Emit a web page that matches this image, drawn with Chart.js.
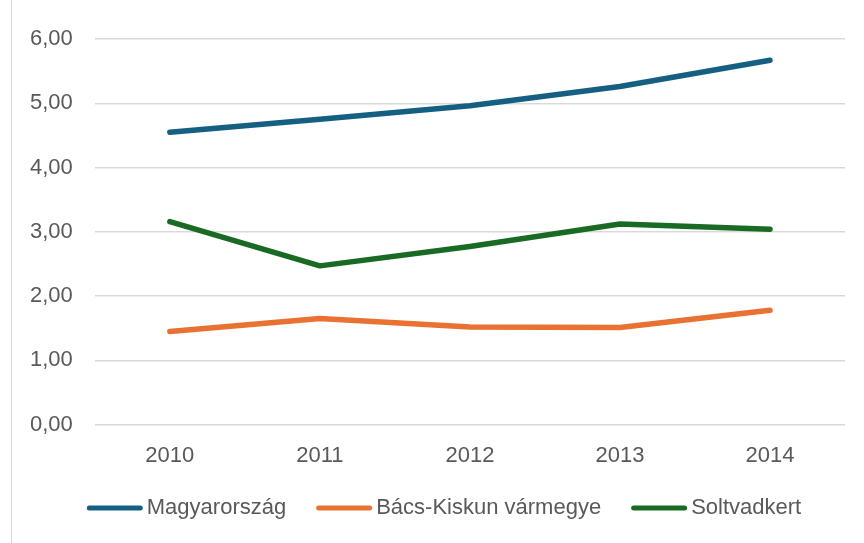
<!DOCTYPE html>
<html>
<head>
<meta charset="utf-8">
<script src="https://cdn.jsdelivr.net/npm/chart.js@4"></script>
<style>
  html, body { margin: 0; padding: 0; background: #fff; }
  #wrap { position: relative; width: 864px; height: 543px; }
  #frame { position: absolute; left: 11px; top: 0; width: 0; height: 543px; border-left: 1px solid #d9d9d9; }
</style>
</head>
<body>
<div id="wrap">
  <div id="frame"></div>
  <canvas id="chart" width="864" height="543"></canvas>
</div>
<script>
// Years on the x axis
const years = ['2010', '2011', '2012', '2013', '2014'];

// Series values
const magyarorszag = [4.55, 4.75, 4.96, 5.26, 5.67];
const bacsKiskun = [1.45, 1.65, 1.52, 1.51, 1.78];
const soltvadkert = [3.16, 2.47, 2.77, 3.12, 3.04];

const seriesNames = ['Magyarország', 'Bács-Kiskun vármegye', 'Soltvadkert'];
const seriesColors = ['#156082', '#E97132', '#196B24'];

const fontFamily = '"Liberation Sans", Arial, sans-serif';
const textColor = '#595959';

const makeSet = (label, data, color) => ({
    label,
    data,
    borderColor: color,
    backgroundColor: color,
    borderWidth: 5.5,
    borderCapStyle: 'round',
    borderJoinStyle: 'round',
    pointRadius: 0,
    tension: 0,
});

// Legend drawn Excel-style: long line, text right next to it
const bottomLegend = {
    id: 'bottomLegend',
    afterDraw(chart) {
        const ctx = chart.ctx;
        const lineLen = 56, gap = 4, spacing = 30, centerX = 444, y = 508;
        ctx.save();
        ctx.font = '22px ' + fontFamily;
        const items = chart.data.datasets.map((ds) => ({
            text: ds.label,
            color: ds.borderColor,
            w: ctx.measureText(ds.label).width,
        }));
        const total = items.reduce((s, it) => s + lineLen + gap + it.w, 0) + spacing * (items.length - 1);
        let x = centerX - total / 2;
        items.forEach((it) => {
            ctx.strokeStyle = it.color;
            ctx.lineWidth = 5;
            ctx.lineCap = 'round';
            ctx.beginPath();
            ctx.moveTo(x + 2.5, y);
            ctx.lineTo(x + lineLen - 2.5, y);
            ctx.stroke();
            ctx.fillStyle = textColor;
            ctx.textBaseline = 'middle';
            ctx.textAlign = 'left';
            ctx.fillText(it.text, x + lineLen + gap, y);
            x += lineLen + gap + it.w + spacing;
        });
        ctx.restore();
    },
};

new Chart(document.getElementById('chart'), {
    type: 'line',
    data: {
        labels: years,
        datasets: [
            makeSet(seriesNames[0], magyarorszag, seriesColors[0]),
            makeSet(seriesNames[1], bacsKiskun, seriesColors[1]),
            makeSet(seriesNames[2], soltvadkert, seriesColors[2]),
        ],
    },
    options: {
        responsive: false,
        animation: false,
        layout: { padding: { top: 39, right: 19, left: 8, bottom: 64 } },
        scales: {
            x: {
                offset: true,
                grid: { display: false },
                border: { display: false },
                ticks: { color: textColor, font: { family: fontFamily, size: 22 }, padding: 10 },
            },
            y: {
                min: 0,
                max: 6,
                ticks: {
                    stepSize: 1,
                    color: textColor,
                    font: { family: fontFamily, size: 22 },
                    padding: 22,
                    callback: (v) => v.toFixed(2).replace('.', ','),
                },
                grid: { color: '#d9d9d9', lineWidth: 1.5, drawTicks: false },
                border: { display: false },
            },
        },
        plugins: {
            legend: { display: false },
            tooltip: { enabled: false },
        },
    },
    plugins: [bottomLegend],
});
</script>
</body>
</html>
